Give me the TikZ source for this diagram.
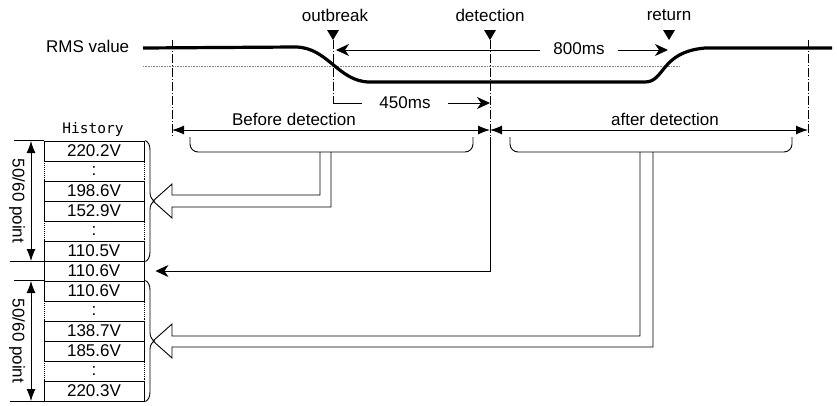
\documentclass[tikz,border=0pt]{standalone}
\usepackage{fontspec}
\setmainfont{Liberation Sans}
\setmonofont{DejaVu Sans Mono}
\usepackage{tikz}
\usetikzlibrary{arrows.meta,decorations.pathreplacing,positioning}

\begin{document}
\begin{tikzpicture}[x=1pt, y=-1pt, font=\fontsize{17}{20}\selectfont, line width=0.9pt,
    markline/.style={dash pattern=on 9pt off 2pt on 1pt off 2pt},
    dimline/.style={{Latex[length=12pt,width=9pt]}-{Latex[length=12pt,width=9pt]}},
    timearrow/.style={-{Stealth[length=13pt,width=12pt,inset=4pt]}},
    rowbox/.style={draw, minimum width=100pt, minimum height=20pt, inner sep=0pt},
    dotbox/.style={draw, densely dotted, minimum width=100pt, minimum height=20pt, inner sep=0pt},
    curly/.style={decorate, decoration={brace, amplitude=9pt}}]
      \useasboundingbox (0, 0) rectangle (837, 405);
      \coordinate (tout) at (333, 40);
      \coordinate (tdet) at (490, 40);
      \coordinate (tret) at (669, 40);
      \coordinate (tbeg) at (172, 40);
      \coordinate (tend) at (808, 40);
      \draw (133, 46) node (rms) [anchor=east] {RMS value}
            (335, 15) node (outbreak) {outbreak}
            (490, 15) node (detection) {detection}
            (669, 15) node (return) {return};
      \foreach \t in {tout, tdet, tret}
            \fill (\t) -- ++(-6, -10) -- ++(12, 0) -- cycle;
      \draw [gray, densely dotted, line width=0.6pt] (143, 66) -- (680, 66);
      \draw [line width=3.2pt] (143, 48) -- (295, 47) .. controls (328, 47) and (338, 82) .. (370, 82)
            -- (645, 82) .. controls (665, 82) and (660, 52) .. (705, 48) -- (832, 48);
      \draw [markline] (tbeg) -- (172, 137)
                       (tout) -- (333, 103)
                       (tdet) -- (490, 137)
                       (tend) -- (808, 137);
      \draw (333, 103) -- (362, 103);
      \draw (405, 103) node (t450) {450ms}
            (579, 49) node (t800) {800ms};
      \draw [timearrow] (448, 103) -- (490, 103);
      \draw [timearrow] (540, 50) -- (336, 50);
      \draw [timearrow] (618, 50) -- (668, 50);
      \draw [dimline] (172, 130) -- (490, 130) node (before) [midway, above=1pt, xshift=-37pt] {Before detection};
      \draw [dimline] (490, 130) -- (808, 130) node (after) [midway, above=1pt, xshift=16pt] {after detection};
      \draw [rounded corners=8pt] (190, 137) |- (473, 152) -- (473, 137)
                                  (510, 137) |- (792, 152) -- (792, 137);
      \node (hist) at (93, 129) {\fontsize{14.5}{16}\selectfont\ttfamily History};
      \foreach \i in {1, 4, 8, 11}
            \node (r\i) [dotbox] at (94, {151 + 20*\i}) {:};
      \foreach \i/\v in {0/220.2V, 2/198.6V, 3/152.9V, 5/110.5V, 6/110.6V,
                         7/110.6V, 9/138.7V, 10/185.6V, 12/220.3V}
            \node (r\i) [rowbox] at (94, {151 + 20*\i}) {\v};
      \draw [curly] ([xshift=1pt]r0.north east) -- ([xshift=1pt]r5.south east);
      \draw [curly] ([xshift=1pt]r7.north east) -- ([xshift=1pt]r12.south east);
      \draw (r0.north west) -- ++(-30, 0)
            (r5.south west) -- ++(-34, 0)
            (r7.north west) -- ++(-30, 0)
            (r12.south west) -- ++(-34, 0);
      \draw [dimline] (31, 141) -- (31, 261);
      \draw [dimline] (31, 281) -- (31, 401);
      \node (pts1) [rotate=-90] at (17, 201) {50/60 point};
      \node (pts2) [rotate=-90] at (17, 341) {50/60 point};
      \draw (320, 152) -- (320, 195) -- (172, 195) -- (172, 184) -- (153, 201)
            -- (172, 218) -- (172, 207) -- (331, 207) -- (331, 152);
      \draw (640, 152) -- (640, 336) -- (172, 336) -- (172, 324) -- (153, 341)
            -- (172, 358) -- (172, 347) -- (653, 347) -- (653, 152);
      \draw [timearrow] (490, 137) |- ([xshift=11pt]r6.east);
\end{tikzpicture}
\end{document}
